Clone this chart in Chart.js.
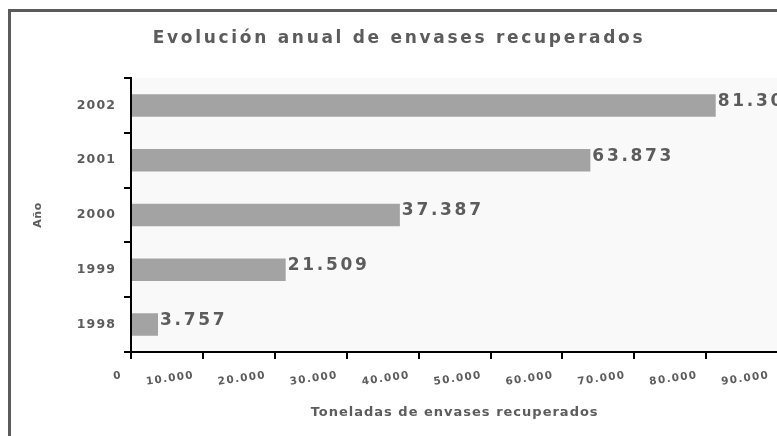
<!DOCTYPE html>
<html lang="es"><head>
<meta charset="utf-8">
<title>Evolución anual de envases recuperados</title>
<style>
* { margin: 0; padding: 0 }
body { width: 777px; height: 436px; overflow: hidden; background: #fff; position: relative; }
#Frame {
    position: absolute; left: 8px; top: 9px; width: 1000px; height: 1000px;
    border-left: 3px solid #5b5b5b; border-top: 3px solid #5b5b5b;
}
#ChartCanvas { position: absolute; left: 0; top: 0; }
</style>
<script src="https://cdn.jsdelivr.net/npm/chart.js@4"></script>
<script>

const years = ["1998", "1999", "2000", "2001", "2002"];
const tonnes = [3757, 21509, 37387, 63873, 81306];
const X_MIN = 0;
const X_MAX = 90000;
const X_STEP = 10000;

const TITLE = "Evolución anual de envases recuperados";
const X_TITLE = "Toneladas de envases recuperados";
const Y_TITLE = "Año";

const TEXT_COLOR = "#5c5c5c";
const BAR_COLOR = "#a3a3a3";
const FAMILY = "'DejaVu Sans', Verdana, sans-serif";

// the original picture has widely spaced letters; spacing per font size
const SPACING_BY_SIZE = {
    "17": "2.7px",   // title and value labels
    "13": "1px",     // x axis title
    "11": "0.5px",   // y axis title
    "10.5": "1.3px", // x tick labels
    "12.5": "1.1px", // y tick labels
};

function get(id) {
    return document.getElementById(id);
}

// 81306 -> "81.306"
function fmt(v) {
    return String(v).replace(/\B(?=(\d{3})+(?!\d))/g, ".");
}

const letterSpacing = {
    id: "letterSpacing",
    beforeInit(chart) {
        const ctx = chart.ctx;
        const fillText = ctx.fillText.bind(ctx);
        ctx.fillText = function (text, x, y, maxWidth) {
            const m = /([\d.]+)px/.exec(ctx.font);
            ctx.letterSpacing = (m && SPACING_BY_SIZE[m[1]]) || "0px";
            if (maxWidth === undefined) fillText(text, x, y);
            else fillText(text, x, y, maxWidth);
        };
    },
};

const plotBackground = {
    id: "plotBackground",
    beforeDraw(chart) {
        const a = chart.chartArea;
        const ctx = chart.ctx;
        ctx.save();
        ctx.fillStyle = "#f9f9f9";
        ctx.fillRect(a.left, a.top, a.right - a.left, a.bottom - a.top);
        ctx.restore();
    },
};

const valueLabels = {
    id: "valueLabels",
    afterDatasetsDraw(chart) {
        const ctx = chart.ctx;
        const meta = chart.getDatasetMeta(0);
        ctx.save();
        ctx.font = "bold 17px " + FAMILY;
        ctx.fillStyle = TEXT_COLOR;
        ctx.textAlign = "left";
        ctx.textBaseline = "middle";
        meta.data.forEach((bar, i) => {
            ctx.fillText(fmt(chart.data.datasets[0].data[i]), bar.x + 2, bar.y - 4);
        });
        ctx.restore();
    },
};

function bodyOnLoad() {
    new Chart(get("ChartCanvas"), {
        type: "bar",
        data: {
            labels: years,
            datasets: [{
                label: X_TITLE,
                data: tonnes,
                backgroundColor: BAR_COLOR,
                borderWidth: 0,
                categoryPercentage: 1,
                barPercentage: 0.41,
            }],
        },
        options: {
            indexAxis: "y",
            responsive: false,
            animation: false,
            layout: { padding: { left: 19, right: 11, top: 0, bottom: 0 } },
            plugins: {
                legend: { display: false },
                tooltip: { enabled: false },
                title: {
                    display: true,
                    text: TITLE,
                    color: TEXT_COLOR,
                    font: { family: FAMILY, size: 17, weight: "bold" },
                    padding: { top: 28.5, bottom: 29.1 },
                },
            },
            scales: {
                x: {
                    min: X_MIN,
                    max: X_MAX,
                    afterFit(scale) { scale.height = 84; },
                    border: { color: "#000", width: 2 },
                    grid: {
                        drawOnChartArea: false,
                        color: "#000",
                        lineWidth: 2,
                        tickLength: 7,
                    },
                    ticks: {
                        stepSize: X_STEP,
                        autoSkip: false,
                        minRotation: 8,
                        maxRotation: 8,
                        padding: 10,
                        labelOffset: -9,
                        color: TEXT_COLOR,
                        font: { family: FAMILY, size: 10.5, weight: "bold" },
                        callback: (v) => fmt(v),
                    },
                    title: {
                        display: true,
                        text: X_TITLE,
                        color: TEXT_COLOR,
                        font: { family: FAMILY, size: 13, weight: "bold" },
                        padding: { top: 0, bottom: 16 },
                    },
                },
                y: {
                    reverse: true,
                    afterFit(scale) { scale.width = 112; },
                    border: { color: "#000", width: 2 },
                    grid: {
                        drawOnChartArea: false,
                        color: "#000",
                        lineWidth: 2,
                        tickLength: 7,
                    },
                    ticks: {
                        padding: 8,
                        color: TEXT_COLOR,
                        font: { family: FAMILY, size: 12.5, weight: "bold" },
                    },
                    title: {
                        display: true,
                        text: Y_TITLE,
                        color: TEXT_COLOR,
                        font: { family: FAMILY, size: 11, weight: "bold" },
                        padding: { top: 13, bottom: 0 },
                    },
                },
            },
        },
        plugins: [letterSpacing, plotBackground, valueLabels],
    });
}

</script>
</head><body onload="bodyOnLoad()">
<div id="Frame"></div>
<canvas id="ChartCanvas" width="790" height="436"></canvas>
</body></html>
